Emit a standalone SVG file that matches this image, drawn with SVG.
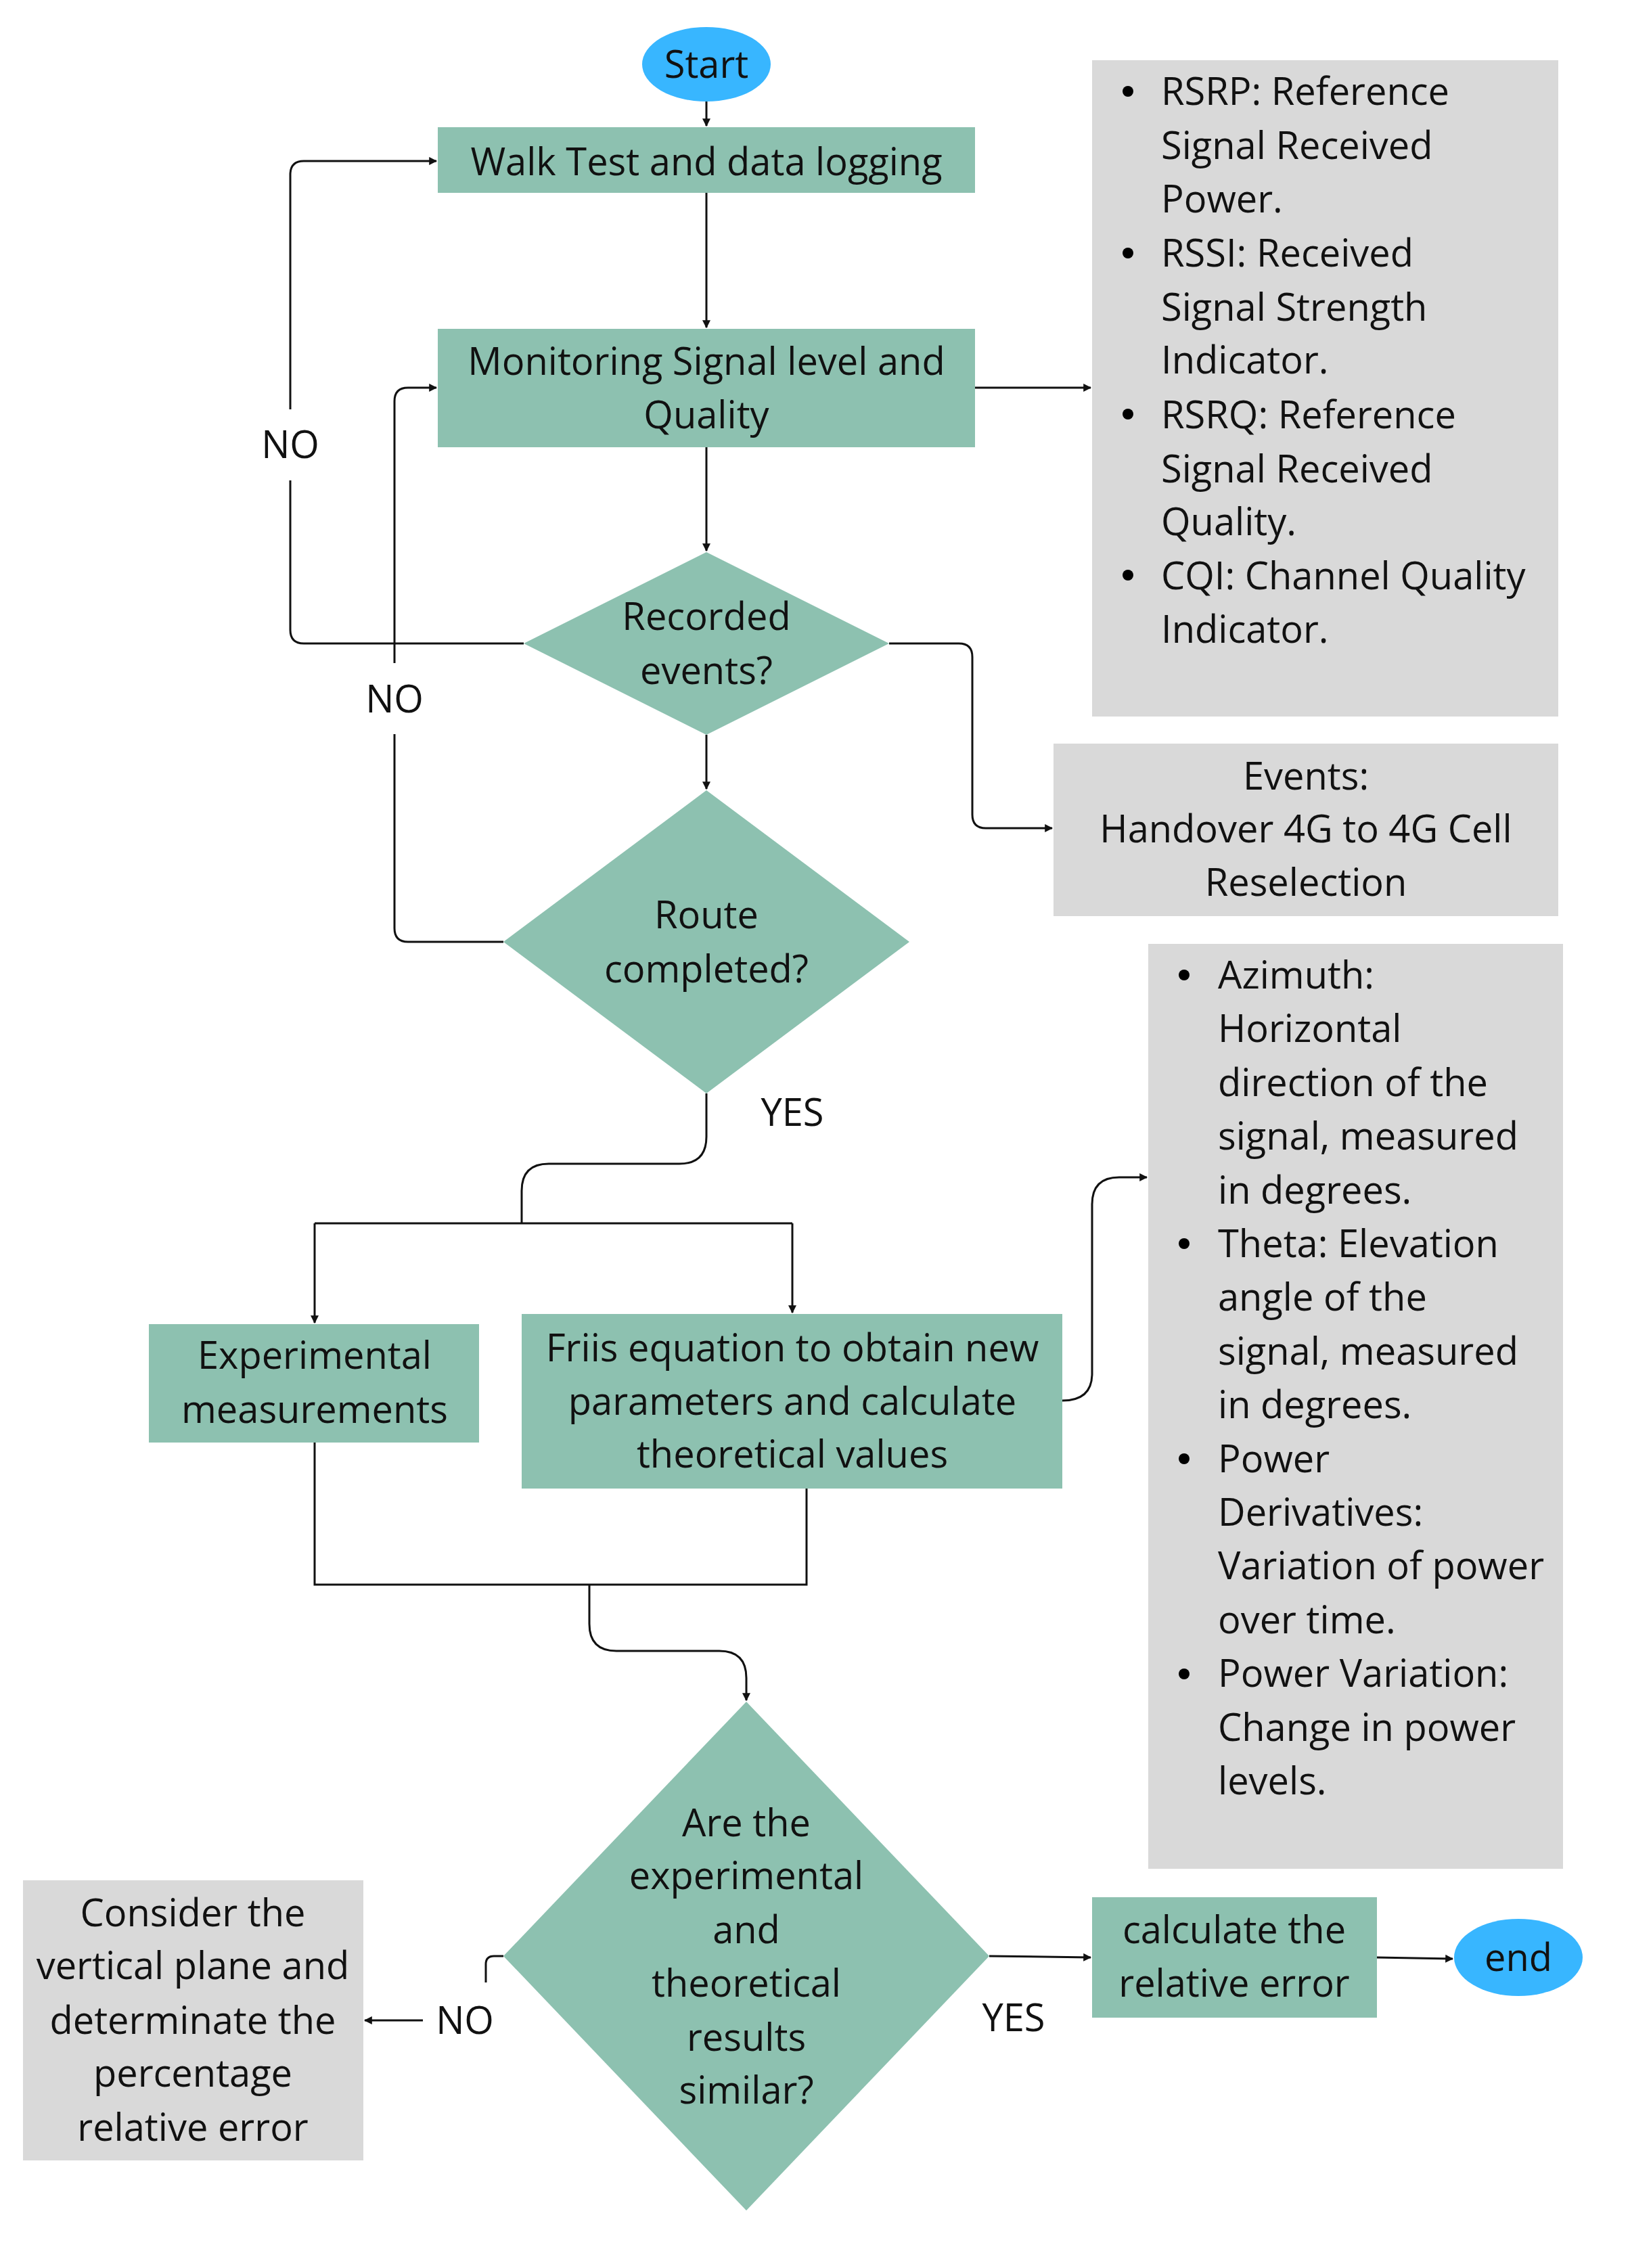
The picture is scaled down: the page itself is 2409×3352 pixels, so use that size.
<svg xmlns="http://www.w3.org/2000/svg" width="2409" height="3352" viewBox="0 0 2409 3352">
<defs>
<style>
.t{font-family:"Open Sans","Noto Sans",sans-serif;font-size:56px;fill:#111;dominant-baseline:central}
.c{text-anchor:middle}
.teal{fill:#8DC1B0}
.grey{fill:#D9D9D9}
.blue{fill:#38B6FF}
.ln{fill:none;stroke:#111;stroke-width:3}
</style>
<marker id="a" viewBox="0 0 10 10" refX="9" refY="5" markerWidth="4" markerHeight="4" orient="auto"><path d="M0,0 L10,5 L0,10 z" fill="#111"/></marker>
</defs>
<rect width="2409" height="3352" fill="#fff"/>
<g id="start"><ellipse class="blue" cx="1044" cy="95" rx="95" ry="55"/><text class="t c" x="1044" y="93">Start</text></g>
<g id="walk"><rect class="teal" x="647" y="188" width="794" height="97"/><text class="t c" x="1044" y="237">Walk Test and data logging</text></g>
<g id="monitor"><rect class="teal" x="647" y="486" width="794" height="175"/><text class="t c" x="1044" y="532">Monitoring Signal level and</text><text class="t c" x="1044" y="611">Quality</text></g>
<g id="recorded"><polygon class="teal" points="1044,816 1314,951 1044,1086 774,951"/><text class="t c" x="1044" y="909">Recorded</text><text class="t c" x="1044" y="989">events?</text></g>
<g id="route"><polygon class="teal" points="1044,1168 1344,1392 1044,1616 744,1392"/><text class="t c" x="1044" y="1350">Route</text><text class="t c" x="1044" y="1430">completed?</text></g>
<g id="metrics"><rect class="grey" x="1614" y="89" width="689" height="970"/>
<circle cx="1667" cy="135" r="8"/><circle cx="1667" cy="374" r="8"/><circle cx="1667" cy="612" r="8"/><circle cx="1667" cy="850" r="8"/>
<text class="t" x="1716" y="133">RSRP: Reference</text><text class="t" x="1716" y="213">Signal Received</text><text class="t" x="1716" y="292">Power.</text>
<text class="t" x="1716" y="372">RSSI: Received</text><text class="t" x="1716" y="452">Signal Strength</text><text class="t" x="1716" y="530">Indicator.</text>
<text class="t" x="1716" y="611">RSRQ: Reference</text><text class="t" x="1716" y="691">Signal Received</text><text class="t" x="1716" y="769">Quality.</text>
<text class="t" x="1716" y="849">CQI: Channel Quality</text><text class="t" x="1716" y="928">Indicator.</text></g>
<g id="events"><rect class="grey" x="1557" y="1099" width="746" height="255"/><text class="t c" x="1930" y="1145">Events:</text><text class="t c" x="1930" y="1223">Handover 4G to 4G Cell</text><text class="t c" x="1930" y="1302">Reselection</text></g>
<g id="params"><rect class="grey" x="1697" y="1395" width="613" height="1367"/>
<circle cx="1750" cy="1441" r="8"/><circle cx="1750" cy="1838" r="8"/><circle cx="1750" cy="2156" r="8"/><circle cx="1750" cy="2474" r="8"/>
<text class="t" x="1800" y="1439">Azimuth:</text><text class="t" x="1800" y="1518">Horizontal</text><text class="t" x="1800" y="1598">direction of the</text><text class="t" x="1800" y="1677">signal, measured</text><text class="t" x="1800" y="1757">in degrees.</text>
<text class="t" x="1800" y="1836">Theta: Elevation</text><text class="t" x="1800" y="1915">angle of the</text><text class="t" x="1800" y="1995">signal, measured</text><text class="t" x="1800" y="2074">in degrees.</text>
<text class="t" x="1800" y="2154">Power</text><text class="t" x="1800" y="2233">Derivatives:</text><text class="t" x="1800" y="2312">Variation of power</text><text class="t" x="1800" y="2392">over time.</text>
<text class="t" x="1800" y="2471">Power Variation:</text><text class="t" x="1800" y="2551">Change in power</text><text class="t" x="1800" y="2630">levels.</text></g>
<g id="experimental"><rect class="teal" x="220" y="1957" width="488" height="175"/><text class="t c" x="465" y="2001">Experimental</text><text class="t c" x="465" y="2081">measurements</text></g>
<g id="friis"><rect class="teal" x="771" y="1942" width="799" height="258"/><text class="t c" x="1171" y="1990">Friis equation to obtain new</text><text class="t c" x="1171" y="2069">parameters and calculate</text><text class="t c" x="1171" y="2147">theoretical values</text></g>
<g id="similar"><polygon class="teal" points="1103,2515 1462,2891 1103,3267 744,2891"/>
<text class="t c" x="1103" y="2692">Are the</text><text class="t c" x="1103" y="2770">experimental</text><text class="t c" x="1103" y="2850">and</text><text class="t c" x="1103" y="2929">theoretical</text><text class="t c" x="1103" y="3009">results</text><text class="t c" x="1103" y="3087">similar?</text></g>
<g id="calc"><rect class="teal" x="1614" y="2804" width="421" height="178"/><text class="t c" x="1824" y="2850">calculate the</text><text class="t c" x="1824" y="2929">relative error</text></g>
<g id="end"><ellipse class="blue" cx="2244" cy="2893" rx="95" ry="57"/><text class="t c" x="2244" y="2891">end</text></g>
<g id="consider"><rect class="grey" x="34" y="2779" width="503" height="414"/><text class="t c" x="285" y="2825">Consider the</text><text class="t c" x="285" y="2903">vertical plane and</text><text class="t c" x="285" y="2984">determinate the</text><text class="t c" x="285" y="3062">percentage</text><text class="t c" x="285" y="3142">relative error</text></g>
<g id="connectors">
<path class="ln" marker-end="url(#a)" d="M1044,150 V186"/>
<path class="ln" marker-end="url(#a)" d="M1044,285 V484"/>
<path class="ln" marker-end="url(#a)" d="M1044,661 V814"/>
<path class="ln" marker-end="url(#a)" d="M1044,1086 V1166"/>
<path class="ln" marker-end="url(#a)" d="M1441,573 H1612"/>
<path class="ln" marker-end="url(#a)" d="M1314,951 H1417 Q1437,951 1437,971 V1204 Q1437,1224 1457,1224 H1555"/>
<path class="ln" marker-end="url(#a)" d="M774,951 H449 Q429,951 429,931 V710 M429,605 V258 Q429,238 449,238 H645"/>
<path class="ln" marker-end="url(#a)" d="M744,1392 H603 Q583,1392 583,1372 V1085 M583,980 V593 Q583,573 603,573 H645"/>
<path class="ln" d="M1044,1616 V1680 Q1044,1720 1004,1720 H811 Q771,1720 771,1760 V1808"/>
<path class="ln" d="M465,1808 H1171"/>
<path class="ln" marker-end="url(#a)" d="M465,1808 V1955"/>
<path class="ln" marker-end="url(#a)" d="M1171,1808 V1940"/>
<path class="ln" d="M465,2132 V2342 H1192 V2200"/>
<path class="ln" marker-end="url(#a)" d="M871,2342 V2400 Q871,2440 911,2440 H1063 Q1103,2440 1103,2480 V2513"/>
<path class="ln" marker-end="url(#a)" d="M1570,2070 Q1614,2070 1614,2030 V1780 Q1614,1740 1654,1740 H1695"/>
<path class="ln" marker-end="url(#a)" d="M1462,2891 L1612,2893"/>
<path class="ln" marker-end="url(#a)" d="M2035,2893 L2147,2895"/>
<path class="ln" d="M744,2891 H730 Q718,2891 718,2903 V2930"/>
<path class="ln" marker-end="url(#a)" d="M625,2986 H539"/>
</g>
<g id="labels">
<text class="t c" x="429" y="655">NO</text>
<text class="t c" x="583" y="1031">NO</text>
<text class="t c" x="1171" y="1642">YES</text>
<text class="t c" x="1498" y="2980">YES</text>
<text class="t c" x="687" y="2984">NO</text>
</g>
</svg>
